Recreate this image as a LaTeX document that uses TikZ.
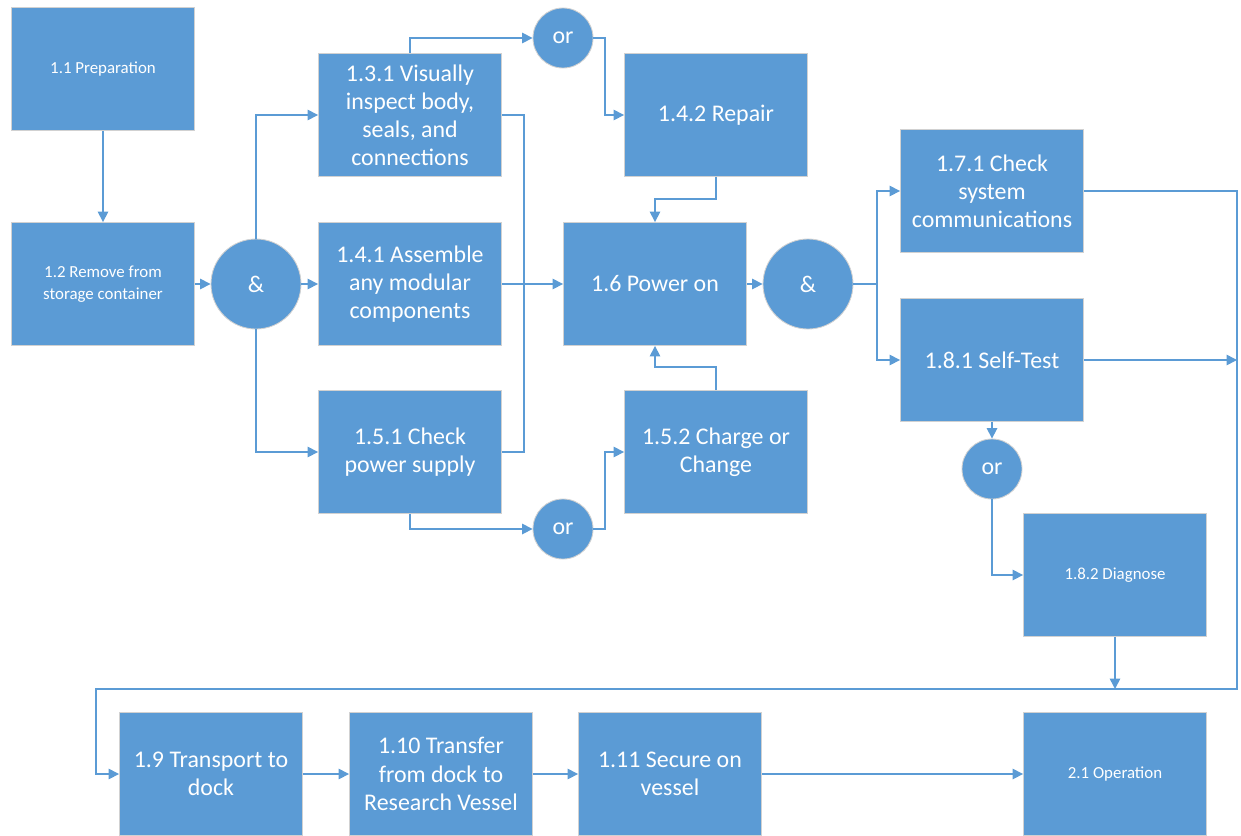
\documentclass[tikz,border=0pt]{standalone}
\usepackage{fontspec}
\setmainfont{Carlito}
\usetikzlibrary{arrows.meta}
\definecolor{boxblue}{HTML}{5B9BD5}

\begin{document}
\begin{tikzpicture}[
    x=0.025cm, y=-0.025cm,
    >={Triangle[length=2.6mm,width=2.6mm]},
    line width=1.1pt,
    task/.style={
        draw=black!18,
        line width=0.6pt,
        fill=boxblue,
        text=white,
        minimum width=4.575cm,
        minimum height=3.075cm,
        align=center,
        inner sep=2pt,
        font=\fontsize{17}{20}\selectfont
    },
    smalltask/.style={
        task,
        font=\fontsize{12}{15.5}\selectfont
    },
    gate/.style={
        circle,
        draw=black!18,
        line width=0.6pt,
        fill=boxblue,
        text=white,
        minimum size=2.25cm,
        inner sep=0pt,
        font=\fontsize{17}{20}\selectfont
    },
    orgate/.style={gate, minimum size=1.5cm},
    flow/.style={draw=boxblue, line width=1.1pt}
]

\useasboundingbox (0,0) rectangle (1241,835);

% top rows
\node[smalltask] (prep) at (103,69) {1.1 Preparation};
\node[smalltask] (remove) at (103,284) {1.2 Remove from\\storage container};
\node[gate] (and1) at (256,284) {\&};
\node[task] (inspect) at (410,115) {1.3.1 Visually\\inspect body,\\seals, and\\connections};
\node[task] (assemble) at (410,284) {1.4.1 Assemble\\any modular\\components};
\node[task] (checkpwr) at (410,452) {1.5.1 Check\\power supply};
\node[orgate] (ortop) at (563,38) {or};
\node[orgate] (orbot) at (563,529) {or};
\node[task] (repair) at (716,115) {1.4.2 Repair};
\node[task] (power) at (655,284) {1.6 Power on};
\node[task] (charge) at (716,452) {1.5.2 Charge or\\Change};
\node[gate] (and2) at (808,284) {\&};
\node[task] (comms) at (992,191) {1.7.1 Check\\system\\communications};
\node[task] (selftest) at (992,360) {1.8.1 Self-Test};
\node[orgate] (orright) at (992,469) {or};
\node[smalltask] (diagnose) at (1115,575) {1.8.2 Diagnose};

% bottom row
\node[task] (transport) at (211,774) {1.9 Transport to\\dock};
\node[task] (transfer) at (441,774) {1.10 Transfer\\from dock to\\Research Vessel};
\node[task] (secure) at (670,774) {1.11 Secure on\\vessel};
\node[smalltask] (operation) at (1115,774) {2.1 Operation};

% turning points
\coordinate (jogtop) at (605,38);
\coordinate (jogbot) at (605,529);
\coordinate (bus) at (524,284);
\coordinate (rjog) at (716,199);
\coordinate (cjog) at (716,367);
\coordinate (split) at (877,284);
\coordinate (railtop) at (1237,191);
\coordinate (railbot) at (1237,689);
\coordinate (leftdrop) at (96,689);

\draw[flow, ->] (prep) -- (remove);
\draw[flow, ->] (remove) -- (and1);
\draw[flow, ->] (and1) -- (assemble);
\draw[flow, ->] (and1.north) |- (inspect.west);
\draw[flow, ->] (and1.south) |- (checkpwr.west);
\draw[flow, ->] (inspect.north) |- (ortop.west);
\draw[flow, ->] (ortop.east) -- (jogtop) |- (repair.west);
\draw[flow, ->] (repair.south) -- (rjog) -| (power.north);
\draw[flow] (inspect.east) -| (bus);
\draw[flow] (checkpwr.east) -| (bus);
\draw[flow, ->] (assemble) -- (power);
\draw[flow, ->] (checkpwr.south) |- (orbot.west);
\draw[flow, ->] (orbot.east) -- (jogbot) |- (charge.west);
\draw[flow, ->] (charge.north) -- (cjog) -| (power.south);
\draw[flow, ->] (power) -- (and2);
\draw[flow] (and2) -- (split);
\draw[flow, ->] (split) |- (comms.west);
\draw[flow, ->] (split) |- (selftest.west);
\draw[flow, ->] (comms.east) -- (railtop) -- (railbot) -- (leftdrop) |- (transport.west);
\draw[flow, ->] (selftest.east) -- (selftest.east -| railtop);
\draw[flow, ->] (selftest) -- (orright);
\draw[flow, ->] (orright.south) |- (diagnose.west);
\draw[flow, ->] (diagnose.south) -- (diagnose.south |- railbot);
\draw[flow, ->] (transport) -- (transfer);
\draw[flow, ->] (transfer) -- (secure);
\draw[flow, ->] (secure) -- (operation);

\end{tikzpicture}
\end{document}
